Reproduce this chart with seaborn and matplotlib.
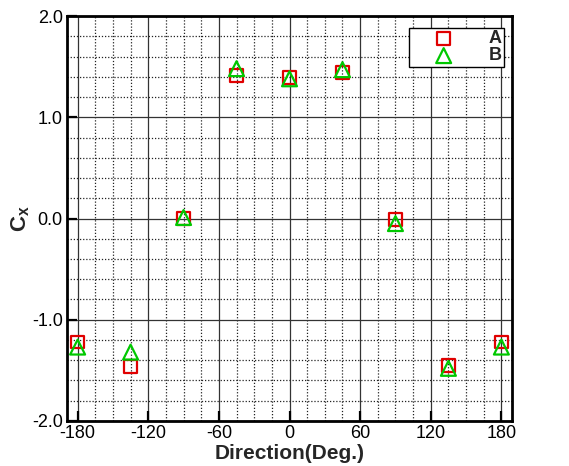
import matplotlib
matplotlib.use("Agg")
import matplotlib.pyplot as plt
import seaborn as sns
import numpy as np
from matplotlib.ticker import MultipleLocator

sns.set_style("white")
plt.rcParams['font.family'] = ['Liberation Sans', 'DejaVu Sans']
plt.rcParams['mathtext.fontset'] = 'custom'
plt.rcParams['mathtext.rm'] = 'Liberation Sans'
plt.rcParams['mathtext.bf'] = 'Liberation Sans:bold'
plt.rcParams['mathtext.it'] = 'Liberation Sans:italic'

direction = [-180, -135, -90, -45, 0, 45, 90, 135, 180]
cx_a = [-1.22, -1.46, 0.00, 1.41, 1.39, 1.44, -0.01, -1.45, -1.22]
cx_b = [-1.27, -1.32, 0.01, 1.48, 1.38, 1.47, -0.05, -1.48, -1.27]
series_labels = ["A", "B"]
x_ticks = [-180, -120, -60, 0, 60, 120, 180]
y_ticks = [-2.0, -1.0, 0.0, 1.0, 2.0]

fig = plt.figure(figsize=(5.69, 4.66), dpi=100)
ax = fig.add_axes([0.1178, 0.0966, 0.782, 0.869])

red = "#e00000"
green = "#00c800"

sns.scatterplot(x=direction, y=cx_a, ax=ax, marker="s", s=85, color=red,
                facecolor="none", edgecolor=red, linewidth=1.6,
                label=series_labels[0], zorder=3)
sns.scatterplot(x=direction, y=cx_b, ax=ax, marker="^", s=115, color=green,
                facecolor="none", edgecolor=green, linewidth=1.6,
                label=series_labels[1], zorder=4)

ax.set_xlim(-189, 189)
ax.set_ylim(-2.0, 2.0)
ax.set_xticks(x_ticks)
ax.set_yticks(y_ticks)
ax.set_xticklabels([str(t) for t in x_ticks])
ax.set_yticklabels([f"{t:.1f}" for t in y_ticks])
ax.xaxis.set_minor_locator(MultipleLocator(15))
ax.yaxis.set_minor_locator(MultipleLocator(0.2))

ax.grid(which="major", color="#333333", linestyle="-", linewidth=0.9)
ax.grid(which="minor", color="#222222", linestyle=(0, (1, 1.5)), linewidth=0.9)
ax.set_axisbelow(True)

ax.tick_params(axis="both", which="major", direction="in", length=7, width=1.6,
               labelsize=13, colors="black", bottom=True, left=True, pad=3)
ax.tick_params(axis="both", which="minor", length=0)

for sp in ax.spines.values():
    sp.set_color("black")
    sp.set_linewidth(2.0)

ax.set_xlabel("Direction(Deg.)", fontsize=15, fontweight="bold", labelpad=1)
ax.set_ylabel(r"$\mathbf{C_x}$", fontsize=16, labelpad=0)

leg = ax.legend(loc="upper right", bbox_to_anchor=(0.982, 0.970), borderaxespad=0,
                frameon=True, fancybox=False, edgecolor="black", framealpha=1,
                handletextpad=0.7, handlelength=3.6, borderpad=0.12,
                labelspacing=0.0, prop={"weight": "bold", "size": 13})
leg.get_frame().set_linewidth(1.0)

fig.savefig("out.png", dpi=100)
